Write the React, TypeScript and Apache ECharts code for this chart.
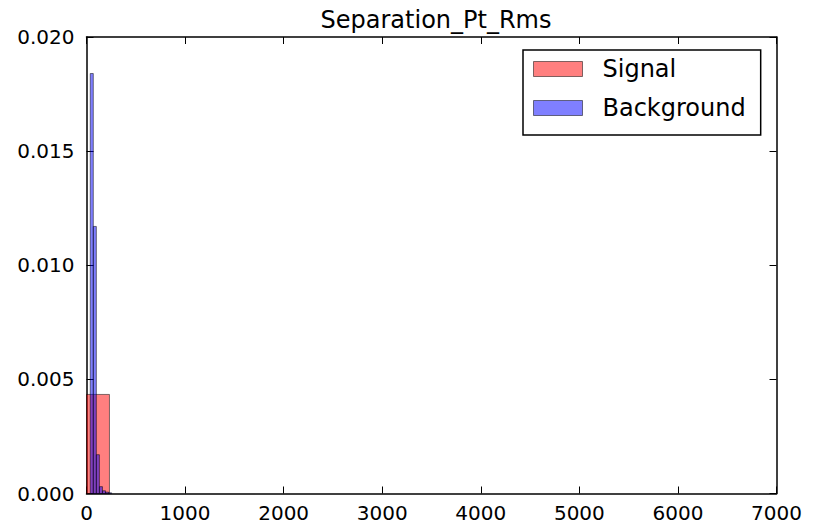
import React, { useEffect, useRef } from "react";
import * as echarts from "echarts";

const titleText = "Separation_Pt_Rms";
const seriesNames = ["Signal", "Background"];
// histogram bins: [binStart, binEnd, density]
const signalBins: [number, number, number][] = [[0, 233, 0.00434]];
const backgroundBins: [number, number, number][] = [
  [38, 69, 0.0184],
  [69, 100, 0.0117],
  [100, 131, 0.0017],
  [131, 162, 0.0003],
  [162, 193, 0.00012],
  [193, 224, 0.00006],
  [224, 255, 0.00003],
];
const xTicks = [0, 1000, 2000, 3000, 4000, 5000, 6000, 7000];
const yTicks = [0, 0.005, 0.01, 0.015, 0.02];

const FONT = "DejaVu Sans";
const fills = ["rgba(255,0,0,0.5)", "rgba(0,0,255,0.5)"];
const edge = "rgba(0,0,0,0.5)";

function histSeries(name: string, data: [number, number, number][], color: string) {
  return {
    name,
    type: "custom",
    xAxisIndex: 0,
    yAxisIndex: 0,
    itemStyle: { color, borderColor: edge, borderWidth: 1 },
    data,
    renderItem: (params: any, api: any) => {
      const x0 = api.value(0);
      const x1 = api.value(1);
      const h = api.value(2);
      const p0 = api.coord([x0, h]);
      const p1 = api.coord([x1, 0]);
      return {
        type: "rect",
        shape: { x: p0[0], y: p0[1], width: p1[0] - p0[0], height: p1[1] - p0[1] },
        style: { fill: color, stroke: edge, lineWidth: 1 },
      };
    },
  };
}

export default function App() {
  const ref = useRef<HTMLDivElement>(null);
  useEffect(() => {
    if (!ref.current) return;
    const chart = echarts.init(ref.current, null, { renderer: "svg" });
    const axisLine = { show: true, onZero: false, lineStyle: { color: "#000", width: 1.5 } };
    const tick = { show: true, inside: true, length: 7, lineStyle: { color: "#000", width: 1 } };
    const xBase = {
      type: "value",
      min: xTicks[0],
      max: xTicks[xTicks.length - 1],
      interval: 1000,
      splitLine: { show: false },
      axisLine,
      axisTick: tick,
    };
    const yBase = {
      type: "value",
      min: yTicks[0],
      max: yTicks[yTicks.length - 1],
      interval: 0.005,
      splitLine: { show: false },
      axisLine,
      axisTick: tick,
    };
    chart.setOption({
      animation: false,
      backgroundColor: "#fff",
      title: {
        text: titleText,
        left: 431,
        textAlign: "center",
        top: 3,
        textStyle: { fontFamily: FONT, fontSize: 24, fontWeight: "normal", color: "#000" },
      },
      grid: { left: 86.5, right: 38.5, top: 37, bottom: 30.5, containLabel: false },
      xAxis: [
        {
          ...xBase,
          position: "bottom",
          axisLabel: {
            show: true,
            margin: 9,
            fontFamily: FONT,
            fontSize: 20,
            color: "#000",
            formatter: (v: number) => String(v),
          },
        },
        { ...xBase, position: "top", axisLabel: { show: false } },
      ],
      yAxis: [
        {
          ...yBase,
          position: "left",
          axisLabel: {
            show: true,
            margin: 12,
            fontFamily: FONT,
            fontSize: 20,
            color: "#000",
            formatter: (v: number) => v.toFixed(3),
          },
        },
        { ...yBase, position: "right", axisLabel: { show: false } },
      ],
      legend: {
        orient: "vertical",
        left: 523,
        top: 50,
        padding: [7, 15, 15, 10],
        itemGap: 15,
        itemWidth: 49,
        itemHeight: 15,
        icon: "rect",
        borderColor: "#000",
        borderWidth: 1.5,
        backgroundColor: "#fff",
        textStyle: {
          fontFamily: FONT,
          fontSize: 24,
          lineHeight: 24,
          color: "#000",
          padding: [0, 0, 0, 15],
        },
        data: seriesNames.map((n, i) => ({
          name: n,
          itemStyle: { color: fills[i], borderColor: edge, borderWidth: 1 },
        })),
      },
      series: [
        histSeries(seriesNames[0], signalBins, fills[0]),
        histSeries(seriesNames[1], backgroundBins, fills[1]),
      ],
    });
    return () => chart.dispose();
  }, []);
  return (
    <div
      ref={ref}
      style={{ position: "fixed", left: 0, top: 0, width: 815, height: 524 }}
    />
  );
}
